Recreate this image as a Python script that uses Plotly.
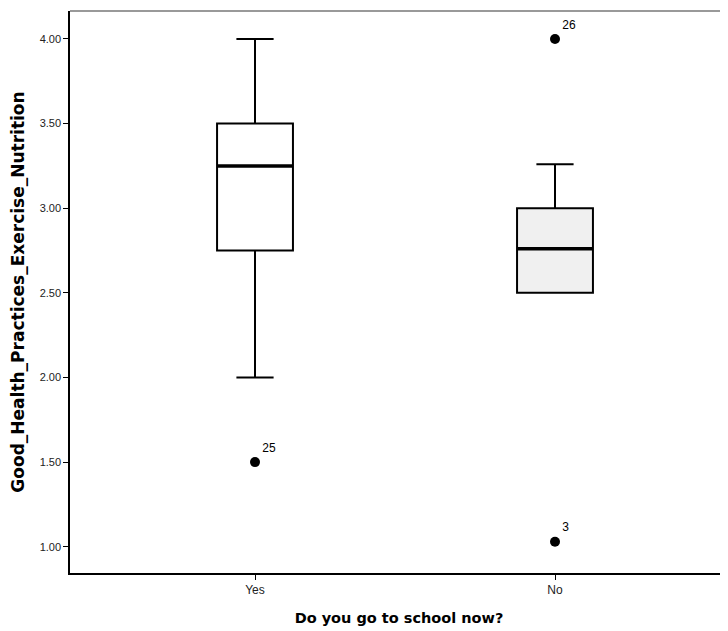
import plotly.graph_objects as go

categories = ["Yes", "No"]
q1 = [2.75, 2.50]
median = [3.25, 2.76]
q3 = [3.50, 3.00]
lower_whisker = [2.00, 2.50]
upper_whisker = [4.00, 3.26]
box_fills = ["#ffffff", "#f0f0f0"]

outlier_cat = ["Yes", "No", "No"]
outlier_val = [1.50, 4.00, 1.03]
outlier_lab = ["25", "26", "3"]

y_ticks = [1.0, 1.5, 2.0, 2.5, 3.0, 3.5, 4.0]

BOX_W = 0.253

fig = go.Figure()
for i, c in enumerate(categories):
    fig.add_trace(go.Box(
        x=[c], q1=[q1[i]], median=[median[i]], q3=[q3[i]],
        lowerfence=[lower_whisker[i]], upperfence=[upper_whisker[i]],
        fillcolor=box_fills[i], line=dict(color="black", width=2),
        width=BOX_W, whiskerwidth=0.49, boxpoints=False, showlegend=False,
        hoverinfo="skip",
    ))
    # thicker median line (degenerate box at the median)
    fig.add_trace(go.Box(
        x=[c], q1=[median[i]], median=[median[i]], q3=[median[i]],
        lowerfence=[median[i]], upperfence=[median[i]],
        fillcolor="black", line=dict(color="black", width=3.5),
        width=BOX_W, whiskerwidth=0.0, boxpoints=False, showlegend=False,
        hoverinfo="skip",
    ))

fig.add_trace(go.Scatter(
    x=outlier_cat, y=outlier_val, mode="markers+text", text=outlier_lab,
    textposition="top right", textfont=dict(size=12, color="black", family="Liberation Sans"),
    marker=dict(color="black", size=10), showlegend=False, cliponaxis=False,
))

fig.update_layout(
    width=720, height=623,
    margin=dict(l=62, r=0, t=3, b=58),
    paper_bgcolor="white", plot_bgcolor="white",
    font=dict(family="Liberation Sans", color="black"),
    boxmode="overlay",
    xaxis=dict(
        type="category", categoryorder="array", categoryarray=categories,
        range=[-0.6167, 1.5767], showline=True, linecolor="black", linewidth=1.5,
        ticks="outside", ticklen=5, tickcolor="black", showgrid=False, zeroline=False,
        tickfont=dict(size=12, color="#222222"), automargin=False,
        title=dict(text="<b>Do you go to school now?</b>", font=dict(family="DejaVu Sans", size=14.5), standoff=17),
    ),
    yaxis=dict(
        range=[0.845, 4.165], tickvals=y_ticks, tickformat=".2f",
        showline=True, linecolor="black", linewidth=1.5,
        ticks="outside", ticklen=5, tickcolor="black", showgrid=False, zeroline=False,
        tickfont=dict(size=11, color="#222222"), automargin=False,
        title=dict(text="<b>Good_Health_Practices_Exercise_Nutrition</b>", font=dict(family="DejaVu Sans", size=17), standoff=13),
    ),
    shapes=[dict(type="line", xref="paper", yref="paper", x0=0, x1=1, y0=1, y1=1,
                 line=dict(color="#777777", width=1.5))],
)

fig.write_html("out.html")
